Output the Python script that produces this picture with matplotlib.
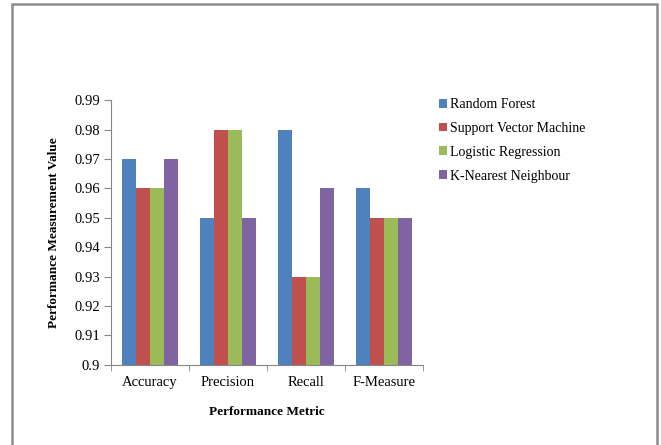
import numpy as np
import matplotlib.pyplot as plt
from matplotlib.patches import Patch, Rectangle

metrics = ["Accuracy", "Precision", "Recall", "F-Measure"]
models = ["Random Forest", "Support Vector Machine", "Logistic Regression", "K-Nearest Neighbour"]
rf = [0.97, 0.95, 0.98, 0.96]
svm = [0.96, 0.98, 0.93, 0.95]
lr = [0.96, 0.98, 0.93, 0.95]
knn = [0.97, 0.95, 0.96, 0.95]
yticks = [0.9, 0.91, 0.92, 0.93, 0.94, 0.95, 0.96, 0.97, 0.98, 0.99]

colors = ["#4F81BD", "#C0504D", "#9BBB59", "#8064A2"]

plt.rcParams["font.family"] = "Liberation Serif"

fig = plt.figure(figsize=(6.61, 4.45), dpi=100)
ax = fig.add_axes([0.168, 0.180, 0.472, 0.595])

x = np.arange(len(metrics))
w = 0.18
for i, (vals, c) in enumerate(zip([rf, svm, lr, knn], colors)):
    ax.bar(x + (i - 1.5) * w, vals, width=w, color=c, zorder=2)

ax.set_xlim(-0.5, len(metrics) - 0.5)
ax.set_ylim(0.9, 0.99)
ax.set_yticks(yticks)
ax.set_yticklabels([f"{v:g}" for v in yticks], fontsize=10.5)
ax.set_xticks(x)
ax.set_xticklabels(metrics, fontsize=10.5)
ax.set_xticks(np.arange(-0.5, len(metrics)), minor=True)
ax.tick_params(axis="x", which="major", length=0, pad=8)
ax.tick_params(axis="x", which="minor", length=4, color="#868686")
ax.tick_params(axis="y", length=5, color="#868686", pad=3)
for s in ["top", "right"]:
    ax.spines[s].set_visible(False)
for s in ["left", "bottom"]:
    ax.spines[s].set_color("#868686")

ax.set_ylabel("Performance Measurement Value", fontsize=9.5, fontweight="bold", labelpad=10)
ax.set_xlabel("Performance Metric", fontsize=9.5, fontweight="bold", labelpad=12)

handles = [Patch(facecolor=c, edgecolor="none") for c in colors]
fig.legend(handles, models, loc="upper left", bbox_to_anchor=(0.655, 0.792),
           frameon=False, fontsize=10, handlelength=0.6, handleheight=0.6,
           handletextpad=0.2, labelspacing=0.78, borderaxespad=0)

# outer frame around the chart area
fig.patches.append(Rectangle((12 / 661, -0.05), 645 / 661, 1.05 - 4 / 445,
                             transform=fig.transFigure, fill=False,
                             edgecolor="#8c8c8c", linewidth=1.8))

fig.savefig("out.png", dpi=100)
